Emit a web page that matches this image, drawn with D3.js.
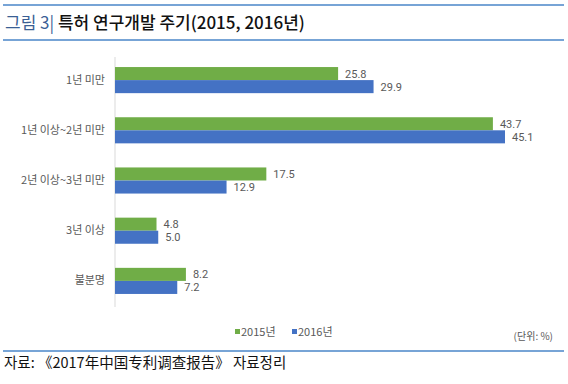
<!DOCTYPE html>
<html><head><meta charset="utf-8">
<script src="https://cdn.jsdelivr.net/npm/d3@7"></script>
<style>body{margin:0;background:#fff}svg{display:block}</style>
</head><body>
<svg id="c" width="568" height="384"></svg>
<script>
const categories = ["1년 미만", "1년 이상~2년 미만", "2년 이상~3년 미만", "3년 이상", "불분명"];
const seriesNames = ["2015년", "2016년"];
const values2015 = [25.8, 43.7, 17.5, 4.8, 8.2];
const values2016 = [29.9, 45.1, 12.9, 5.0, 7.2];
const colors = ["#70AD47", "#4472C4"];

const svg = d3.select("#c");
const font = "'Noto Sans CJK KR', 'Noto Sans', sans-serif";
const numFont = "Roboto, 'Noto Sans', sans-serif";

// frame lines
[5, 40, 351].forEach(y => svg.append("line").attr("x1", 3).attr("x2", 564).attr("y1", y).attr("y2", y)
  .attr("stroke", "#4a86c8").attr("stroke-width", 1.5));

// title
const t = svg.append("text").attr("x", 5).attr("y", 29).attr("font-family", font).attr("font-size", 17);
t.append("tspan").attr("fill", "#3a5f95").text("그림 3| ");
t.append("tspan").attr("fill", "#111").attr("font-weight", 500).text("특허 연구개발 주기(2015, 2016년)");

const x = d3.scaleLinear().domain([0, 45.1]).range([115, 505]);
const y = d3.scaleBand().domain(categories).range([55, 306]).paddingInner(0.48).paddingOuter(0.24);
const sub = d3.scaleBand().domain(seriesNames).range([0, y.bandwidth()]);

// axis line
svg.append("line").attr("x1", x(0)).attr("x2", x(0)).attr("y1", 57).attr("y2", 307)
  .attr("stroke", "#d9d9d9").attr("stroke-width", 1);

const data = categories.map((c, i) => ({c, v: [values2015[i], values2016[i]]}));
const g = svg.append("g");
data.forEach(d => {
  d.v.forEach((v, j) => {
    const yy = y(d.c) + sub(seriesNames[j]);
    g.append("rect").attr("x", x(0)).attr("y", yy).attr("width", x(v) - x(0)).attr("height", sub.bandwidth())
      .attr("fill", colors[j]);
    g.append("text").attr("x", x(v) + 7).attr("y", yy + sub.bandwidth() / 2 + 4)
      .attr("font-family", numFont).attr("font-size", 11).attr("fill", "#595959").text(v.toFixed(1));
  });
});

// category labels
const yAxis = d3.axisLeft(y).tickSize(0).tickPadding(10);
const ya = svg.append("g").attr("transform", `translate(${x(0)},0)`).call(yAxis);
ya.select(".domain").remove();
ya.selectAll("text").attr("font-family", font).attr("font-size", 11).attr("fill", "#595959");

// legend
const leg = svg.append("g");
const lx = [235, 292];
seriesNames.forEach((s, j) => {
  leg.append("rect").attr("x", lx[j]).attr("y", 329).attr("width", 5).attr("height", 5).attr("fill", colors[j]);
  leg.append("text").attr("x", lx[j] + 6).attr("y", 336).attr("font-family", font).attr("font-size", 11)
    .attr("fill", "#595959").text(s);
});
svg.append("text").attr("x", 553).attr("y", 340).attr("text-anchor", "end").attr("font-family", font)
  .attr("font-size", 10).attr("fill", "#595959").text("(단위: %)");

// source
svg.append("text").attr("x", 4).attr("y", 368).attr("font-family", font).attr("font-size", 14.5)
  .attr("fill", "#111").text("자료: 《2017年中国专利调查报告》 자료정리");
</script>
</body></html>
